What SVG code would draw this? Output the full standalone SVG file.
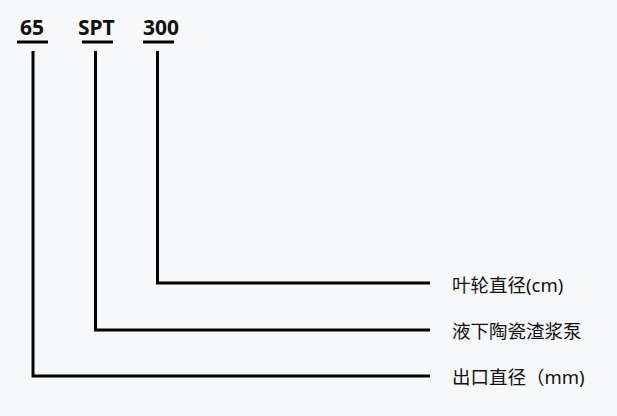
<svg xmlns="http://www.w3.org/2000/svg" width="617" height="416" viewBox="0 0 617 416">
<style>
.code{font-family:"Noto Sans","Open Sans",sans-serif;font-weight:bold;font-size:21px;fill:#111}
.lbl{font-family:"Noto Sans","Noto Sans CJK SC",sans-serif;font-size:18.5px;fill:#111}
.ln{fill:none;stroke:#000;stroke-width:3}
</style>
<rect width="617" height="416" fill="#f7f8fa"/>
<g id="code-65"><text class="code" x="20" y="35">65</text><line class="ln" x1="17" y1="42" x2="48" y2="42"/></g>
<g id="code-SPT"><text class="code" x="78" y="35">SPT</text><line class="ln" x1="82" y1="42" x2="113" y2="42"/></g>
<g id="code-300"><text class="code" x="143" y="35">300</text><line class="ln" x1="143" y1="42" x2="174" y2="42"/></g>
<g id="connectors">
<polyline class="ln" points="157.5,51 157.5,283 430,283"/>
<polyline class="ln" points="95.5,51 95.5,330 430,330"/>
<polyline class="ln" points="33,51 33,376 430,376"/>
</g>
<g id="label-1"><text class="lbl" x="452" y="292">叶轮直径(cm)</text></g>
<g id="label-2"><text class="lbl" x="452" y="338">液下陶瓷渣浆泵</text></g>
<g id="label-3"><text class="lbl" x="452" y="384">出口直径（mm)</text></g>
</svg>
